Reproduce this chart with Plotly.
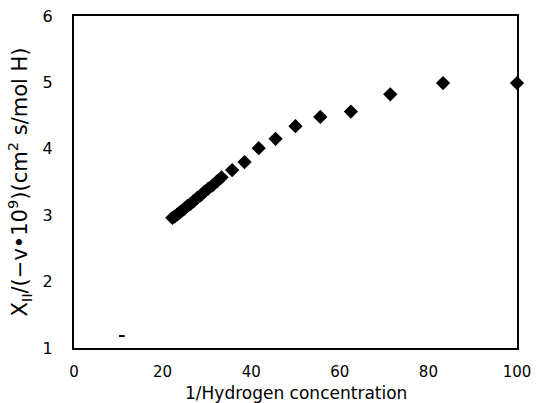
import plotly.graph_objects as go

# 1/Hydrogen concentration
x_vals = [100.0, 83.3, 71.4, 62.5, 55.6, 50.0, 45.5, 41.7, 38.5, 35.7,
          33.3, 32.3, 31.3, 30.3, 29.4, 28.6, 27.8, 27.0, 26.3, 25.6,
          25.0, 24.4, 23.8, 23.3, 22.7, 22.2]
y_vals = [4.99, 4.99, 4.82, 4.56, 4.48, 4.34, 4.15, 4.01, 3.80, 3.68,
          3.57, 3.51, 3.45, 3.40, 3.35, 3.30, 3.26, 3.21, 3.17, 3.14,
          3.10, 3.07, 3.04, 3.01, 2.98, 2.96]

# small stray mark visible in the original figure
stray_x = [10.8]
stray_y = [1.18]

x_ticks = [0, 20, 40, 60, 80, 100]
y_ticks = [1, 2, 3, 4, 5, 6]

FONT = "DejaVu Sans, sans-serif"

fig = go.Figure()
fig.add_trace(go.Scatter(
    x=x_vals, y=y_vals, mode="markers",
    marker=dict(symbol="diamond", size=11, color="black"),
    cliponaxis=False, showlegend=False,
))
fig.add_trace(go.Scatter(
    x=stray_x, y=stray_y, mode="markers",
    marker=dict(symbol="line-ew", size=4, color="black",
                line=dict(width=2, color="black")),
    showlegend=False,
))

fig.update_layout(
    width=541, height=403,
    margin=dict(l=74, r=24, t=16, b=55),
    paper_bgcolor="white", plot_bgcolor="white",
    font=dict(family=FONT, color="black", size=16),
    annotations=[dict(
        text="1/Hydrogen concentration", xref="paper", yref="paper",
        x=0.5, y=-0.137, xanchor="center", yanchor="middle",
        showarrow=False, font=dict(size=17), borderpad=0,
    )],
)
fig.update_xaxes(
    range=[0, 100], tickvals=x_ticks, ticktext=[str(t) for t in x_ticks],
    showgrid=False, zeroline=False, automargin=False,
    showline=True, linecolor="black", linewidth=2, mirror=True,
    ticks="", ticklabelstandoff=9,
    tickfont=dict(size=15),
)
fig.update_yaxes(
    range=[1, 6], tickvals=y_ticks, ticktext=[str(t) for t in y_ticks],
    showgrid=False, zeroline=False, automargin=False,
    showline=True, linecolor="black", linewidth=2, mirror=True,
    ticks="", ticklabelstandoff=16,
    tickfont=dict(size=16),
    title=dict(text="X<sub>II</sub>/(\u2212v\u202210<sup>9</sup>)(cm<sup>2</sup> s/mol H)",
               font=dict(size=21), standoff=9),
)

fig.write_html("out.html")
